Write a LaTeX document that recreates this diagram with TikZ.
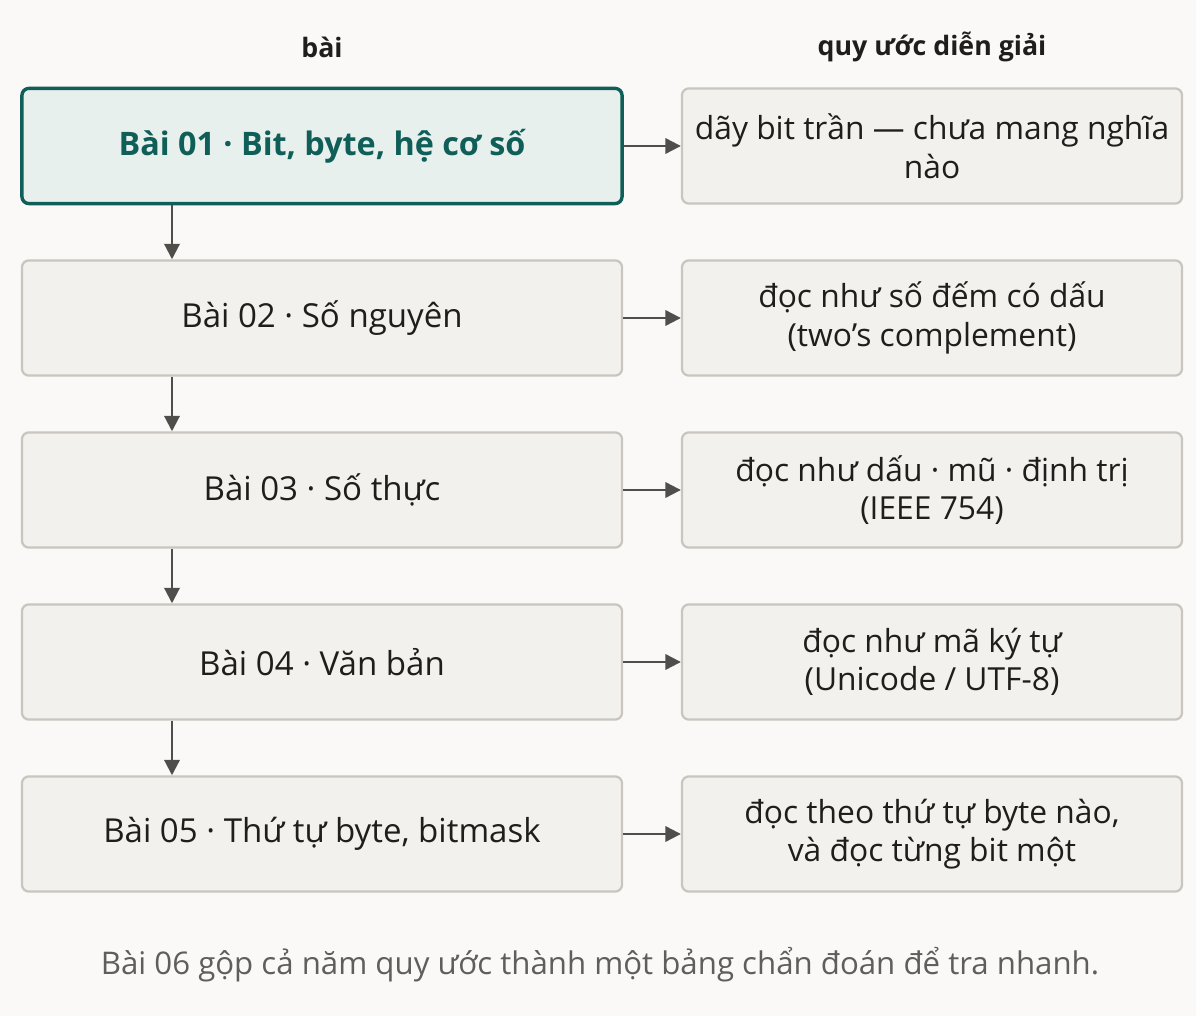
\documentclass[tikz,border=0pt]{standalone}
\usepackage{fontspec}
\setmainfont{Open Sans}
\usetikzlibrary{arrows.meta}

\definecolor{paper}{HTML}{FAF9F7}
\definecolor{boxfill}{HTML}{F2F1EE}
\definecolor{boxline}{HTML}{CAC6BF}
\definecolor{tealfill}{HTML}{E8F0EE}
\definecolor{tealline}{HTML}{0F5E57}
\definecolor{arrowgray}{HTML}{4F4E4A}
\definecolor{inkgray}{HTML}{1F1E1C}
\definecolor{notegray}{HTML}{5F5E5A}

\tikzset{
  lesson/.style={draw=boxline, fill=boxfill, line width=1.6pt, rounded corners=5pt,
    minimum width=15cm, minimum height=2.88cm, text=inkgray,
    font=\fontsize{23.5}{28}\selectfont},
  current/.style={lesson, draw=tealline, fill=tealfill, line width=2.4pt,
    text=tealline, font=\fontsize{23}{28}\selectfont\bfseries},
  reading/.style={lesson, minimum width=12.5cm, align=center, inner sep=1pt,
    font=\fontsize{22.6}{27.5}\selectfont},
  header/.style={font=\fontsize{19}{23}\selectfont\bfseries, text=inkgray},
  link/.style={draw=arrowgray, line width=1.6pt, -{Triangle[length=11pt,width=11pt]}}
}

\begin{document}
\begin{tikzpicture}[x=0.025cm, y=-0.025cm]
      % Paper and fixed frame
      \fill[paper] (0,0) rectangle (1196,1016);
      \useasboundingbox (0,0) rectangle (1196,1016);

      % Column headers
      \node[header] (hLesson) at (322,47) {bài};
      \node[header] (hReading) at (932,47) {quy ước diễn giải};

      % Lessons on the left
      \node[current] (b1) at (322,146) {Bài 01 · Bit, byte, hệ cơ số};
      \node[lesson] (b2) at (322,318) {Bài 02 · Số nguyên};
      \node[lesson] (b3) at (322,490) {Bài 03 · Số thực};
      \node[lesson] (b4) at (322,662) {Bài 04 · Văn bản};
      \node[lesson] (b5) at (322,834) {Bài 05 · Thứ tự byte, bitmask};

      % How the bits are read, on the right
      \node[reading] (r1) at (932,146) {dãy bit trần — chưa mang nghĩa\\nào};
      \node[reading] (r2) at (932,318) {đọc như số đếm có dấu\\(two’s complement)};
      \node[reading] (r3) at (932,490) {đọc như dấu · mũ · định trị\\(IEEE 754)};
      \node[reading] (r4) at (932,662) {đọc như mã ký tự\\(Unicode / UTF-8)};
      \node[reading] (r5) at (932,834) {đọc theo thứ tự byte nào,\\và đọc từng bit một};

      % Arrows down the lessons and across to the readings
      \foreach \i/\j in {1/2,2/3,3/4,4/5}
        \draw[link] (b\i.south -| 172,0) -- (b\j.north -| 172,0);
      \foreach \i in {1,...,5}
        \draw[link] (b\i.east) -- (r\i.west);

      % Closing note
      \node[font=\fontsize{22.2}{27}\selectfont, text=notegray] (note) at (600,965)
        {Bài 06 gộp cả năm quy ước thành một bảng chẩn đoán để tra nhanh.};
\end{tikzpicture}
\end{document}
